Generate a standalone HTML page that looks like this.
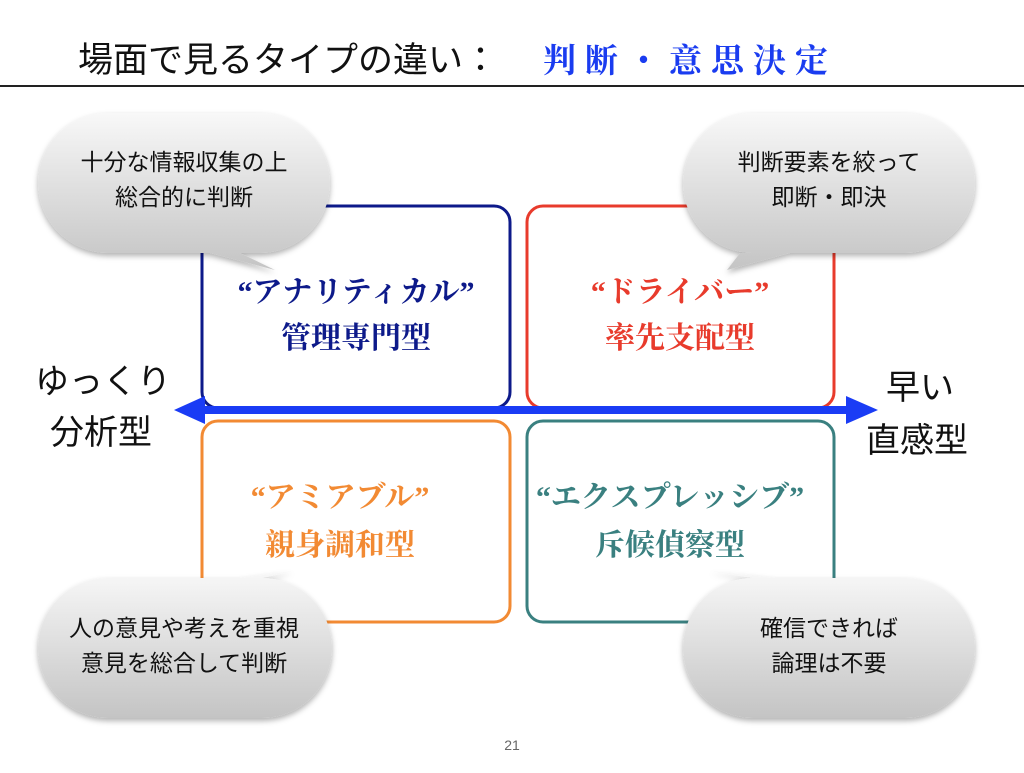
<!DOCTYPE html>
<html><head><meta charset="utf-8"><style>
body{margin:0;width:1024px;height:768px;background:#fff;overflow:hidden}
</style></head><body>
<svg width="1024" height="768" xmlns="http://www.w3.org/2000/svg">
<defs>
<linearGradient id="g" x1="0" y1="0" x2="0" y2="1">
<stop offset="0" stop-color="#f8f8f8"/><stop offset="1" stop-color="#c4c4c4"/></linearGradient>
<filter id="s" x="-10%" y="-10%" width="120%" height="130%"><feDropShadow dx="0" dy="3" stdDeviation="3" flood-color="#000" flood-opacity="0.3"/></filter>
</defs>
<text x="78" y="72" font-family="Liberation Sans,Noto Sans CJK JP,sans-serif" font-size="35" fill="#111">場面で見るタイプの違い：</text>
<text x="543" y="72" font-family="Liberation Serif,Noto Serif CJK SC,serif" font-weight="bold" font-size="33" fill="#1a3cf0" letter-spacing="9">判断・意思決定</text>
<rect x="0" y="85" width="1024" height="2" fill="#222"/>

<g fill="#fff" stroke-width="3">
<rect x="202" y="206" width="308" height="202" rx="16" stroke="#0d1a8a"/>
<rect x="527" y="206" width="307" height="202" rx="16" stroke="#e83b2c"/>
<rect x="202" y="421" width="308" height="201" rx="16" stroke="#f28a33"/>
<rect x="527" y="421" width="307" height="201" rx="16" stroke="#3a8080"/>
</g>
<rect x="200" y="406" width="650" height="8" fill="#1a3cf5"/>
<polygon points="174,410 205,396 205,424" fill="#1a3cf5"/>
<polygon points="878,410 846,396 846,424" fill="#1a3cf5"/>

<g font-family="Liberation Serif,Noto Serif CJK SC,serif" font-weight="bold" text-anchor="middle" font-size="30">
<text x="356" y="302" fill="#0d1a8a">“アナリティカル”</text>
<text x="356" y="348" fill="#0d1a8a">管理専門型</text>
<text x="680" y="302" fill="#e83b2c">“ドライバー”</text>
<text x="680" y="348" fill="#e83b2c">率先支配型</text>
<text x="340" y="507" fill="#f28a33">“アミアブル”</text>
<text x="340" y="555" fill="#f28a33">親身調和型</text>
<text x="670" y="507" fill="#3a8080">“エクスプレッシブ”</text>
<text x="670" y="555" fill="#3a8080">斥候偵察型</text>
</g>

<g font-family="Liberation Sans,Noto Sans CJK JP,sans-serif" font-size="34" fill="#111">
<text x="35" y="393">ゆっくり</text>
<text x="50" y="444">分析型</text>
<text x="886" y="399">早い</text>
<text x="866" y="452">直感型</text>
</g>

<g fill="url(#g)" filter="url(#s)">
<path d="M108,113 H260 A70,70 0 0 1 260,253 H240 L275,270 L210,253 H108 A70,70 0 0 1 108,113Z"/>
<path d="M753,113 H905 A70,70 0 0 1 905,253 H790 L727,270 L740,253 H753 A70,70 0 0 1 753,113Z"/>
<path d="M108,578 H240 L293,571 L262,578 A70,70 0 0 1 262,718 H108 A70,70 0 0 1 108,578Z"/>
<path d="M753,578 L710,571 L775,578 H905 A70,70 0 0 1 905,718 H753 A70,70 0 0 1 753,578Z"/>
</g>
<g font-family="Liberation Sans,Noto Sans CJK JP,sans-serif" font-size="23" fill="#111" text-anchor="middle">
<text x="184" y="170">十分な情報収集の上</text>
<text x="184" y="205">総合的に判断</text>
<text x="829" y="170">判断要素を絞って</text>
<text x="829" y="205">即断・即決</text>
<text x="184" y="636">人の意見や考えを重視</text>
<text x="184" y="671">意見を総合して判断</text>
<text x="829" y="636">確信できれば</text>
<text x="829" y="671">論理は不要</text>
</g>
<text x="512" y="750" font-family="Liberation Sans,sans-serif" font-size="14" fill="#666" text-anchor="middle">21</text>
</svg>
</body></html>
